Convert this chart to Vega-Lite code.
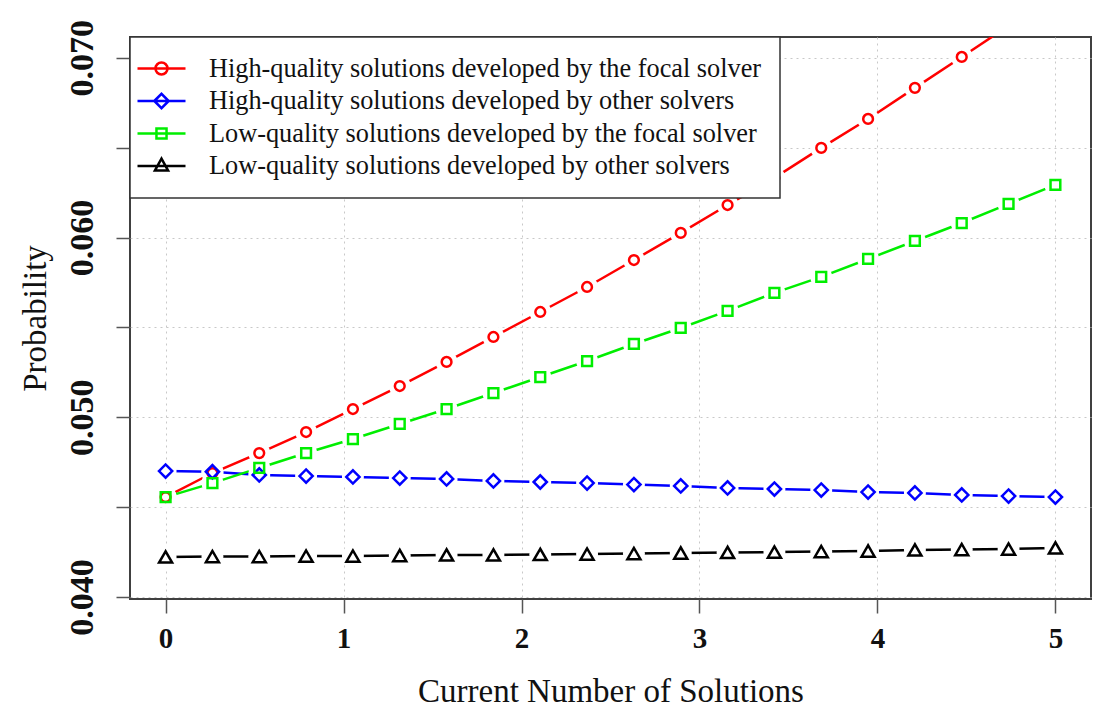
{
  "$schema": "https://vega.github.io/schema/vega-lite/v6.json",
  "autosize": "none",
  "padding": {"left": 130, "top": 37, "right": 19, "bottom": 114},
  "width": 961,
  "height": 562,
  "background": "white",
  "data": {
    "values": [
      {"x": 0.0, "series": "High-quality solutions developed by the focal solver", "p": 0.04556},
      {"x": 0.2632, "series": "High-quality solutions developed by the focal solver", "p": 0.04690},
      {"x": 0.5263, "series": "High-quality solutions developed by the focal solver", "p": 0.04801},
      {"x": 0.7895, "series": "High-quality solutions developed by the focal solver", "p": 0.04918},
      {"x": 1.0526, "series": "High-quality solutions developed by the focal solver", "p": 0.05046},
      {"x": 1.3158, "series": "High-quality solutions developed by the focal solver", "p": 0.05174},
      {"x": 1.5789, "series": "High-quality solutions developed by the focal solver", "p": 0.05308},
      {"x": 1.8421, "series": "High-quality solutions developed by the focal solver", "p": 0.05447},
      {"x": 2.1053, "series": "High-quality solutions developed by the focal solver", "p": 0.05586},
      {"x": 2.3684, "series": "High-quality solutions developed by the focal solver", "p": 0.05725},
      {"x": 2.6316, "series": "High-quality solutions developed by the focal solver", "p": 0.05875},
      {"x": 2.8947, "series": "High-quality solutions developed by the focal solver", "p": 0.06026},
      {"x": 3.1579, "series": "High-quality solutions developed by the focal solver", "p": 0.06181},
      {"x": 3.4211, "series": "High-quality solutions developed by the focal solver", "p": 0.06332},
      {"x": 3.6842, "series": "High-quality solutions developed by the focal solver", "p": 0.06499},
      {"x": 3.9474, "series": "High-quality solutions developed by the focal solver", "p": 0.06660},
      {"x": 4.2105, "series": "High-quality solutions developed by the focal solver", "p": 0.06833},
      {"x": 4.4737, "series": "High-quality solutions developed by the focal solver", "p": 0.07005},
      {"x": 4.7368, "series": "High-quality solutions developed by the focal solver", "p": 0.07178},
      {"x": 5.0, "series": "High-quality solutions developed by the focal solver", "p": 0.07361},

      {"x": 0.0, "series": "High-quality solutions developed by other solvers", "p": 0.04701},
      {"x": 0.2632, "series": "High-quality solutions developed by other solvers", "p": 0.04697},
      {"x": 0.5263, "series": "High-quality solutions developed by other solvers", "p": 0.04679},
      {"x": 0.7895, "series": "High-quality solutions developed by other solvers", "p": 0.04673},
      {"x": 1.0526, "series": "High-quality solutions developed by other solvers", "p": 0.04668},
      {"x": 1.3158, "series": "High-quality solutions developed by other solvers", "p": 0.04662},
      {"x": 1.5789, "series": "High-quality solutions developed by other solvers", "p": 0.04657},
      {"x": 1.8421, "series": "High-quality solutions developed by other solvers", "p": 0.04646},
      {"x": 2.1053, "series": "High-quality solutions developed by other solvers", "p": 0.04640},
      {"x": 2.3684, "series": "High-quality solutions developed by other solvers", "p": 0.04634},
      {"x": 2.6316, "series": "High-quality solutions developed by other solvers", "p": 0.04626},
      {"x": 2.8947, "series": "High-quality solutions developed by other solvers", "p": 0.04618},
      {"x": 3.1579, "series": "High-quality solutions developed by other solvers", "p": 0.04607},
      {"x": 3.4211, "series": "High-quality solutions developed by other solvers", "p": 0.04601},
      {"x": 3.6842, "series": "High-quality solutions developed by other solvers", "p": 0.04595},
      {"x": 3.9474, "series": "High-quality solutions developed by other solvers", "p": 0.04584},
      {"x": 4.2105, "series": "High-quality solutions developed by other solvers", "p": 0.04579},
      {"x": 4.4737, "series": "High-quality solutions developed by other solvers", "p": 0.04568},
      {"x": 4.7368, "series": "High-quality solutions developed by other solvers", "p": 0.04562},
      {"x": 5.0, "series": "High-quality solutions developed by other solvers", "p": 0.04556},

      {"x": 0.0, "series": "Low-quality solutions developed by the focal solver", "p": 0.04556},
      {"x": 0.2632, "series": "Low-quality solutions developed by the focal solver", "p": 0.04634},
      {"x": 0.5263, "series": "Low-quality solutions developed by the focal solver", "p": 0.04718},
      {"x": 0.7895, "series": "Low-quality solutions developed by the focal solver", "p": 0.04801},
      {"x": 1.0526, "series": "Low-quality solutions developed by the focal solver", "p": 0.04879},
      {"x": 1.3158, "series": "Low-quality solutions developed by the focal solver", "p": 0.04963},
      {"x": 1.5789, "series": "Low-quality solutions developed by the focal solver", "p": 0.05046},
      {"x": 1.8421, "series": "Low-quality solutions developed by the focal solver", "p": 0.05135},
      {"x": 2.1053, "series": "Low-quality solutions developed by the focal solver", "p": 0.05224},
      {"x": 2.3684, "series": "Low-quality solutions developed by the focal solver", "p": 0.05313},
      {"x": 2.6316, "series": "Low-quality solutions developed by the focal solver", "p": 0.05408},
      {"x": 2.8947, "series": "Low-quality solutions developed by the focal solver", "p": 0.05497},
      {"x": 3.1579, "series": "Low-quality solutions developed by the focal solver", "p": 0.05592},
      {"x": 3.4211, "series": "Low-quality solutions developed by the focal solver", "p": 0.05692},
      {"x": 3.6842, "series": "Low-quality solutions developed by the focal solver", "p": 0.05781},
      {"x": 3.9474, "series": "Low-quality solutions developed by the focal solver", "p": 0.05881},
      {"x": 4.2105, "series": "Low-quality solutions developed by the focal solver", "p": 0.05981},
      {"x": 4.4737, "series": "Low-quality solutions developed by the focal solver", "p": 0.06081},
      {"x": 4.7368, "series": "Low-quality solutions developed by the focal solver", "p": 0.06187},
      {"x": 5.0, "series": "Low-quality solutions developed by the focal solver", "p": 0.06293},

      {"x": 0.0, "series": "Low-quality solutions developed by other solvers", "p": 0.04223},
      {"x": 0.2632, "series": "Low-quality solutions developed by other solvers", "p": 0.04225},
      {"x": 0.5263, "series": "Low-quality solutions developed by other solvers", "p": 0.04225},
      {"x": 0.7895, "series": "Low-quality solutions developed by other solvers", "p": 0.04228},
      {"x": 1.0526, "series": "Low-quality solutions developed by other solvers", "p": 0.04228},
      {"x": 1.3158, "series": "Low-quality solutions developed by other solvers", "p": 0.04231},
      {"x": 1.5789, "series": "Low-quality solutions developed by other solvers", "p": 0.04234},
      {"x": 1.8421, "series": "Low-quality solutions developed by other solvers", "p": 0.04234},
      {"x": 2.1053, "series": "Low-quality solutions developed by other solvers", "p": 0.04237},
      {"x": 2.3684, "series": "Low-quality solutions developed by other solvers", "p": 0.04239},
      {"x": 2.6316, "series": "Low-quality solutions developed by other solvers", "p": 0.04242},
      {"x": 2.8947, "series": "Low-quality solutions developed by other solvers", "p": 0.04245},
      {"x": 3.1579, "series": "Low-quality solutions developed by other solvers", "p": 0.04248},
      {"x": 3.4211, "series": "Low-quality solutions developed by other solvers", "p": 0.04250},
      {"x": 3.6842, "series": "Low-quality solutions developed by other solvers", "p": 0.04253},
      {"x": 3.9474, "series": "Low-quality solutions developed by other solvers", "p": 0.04256},
      {"x": 4.2105, "series": "Low-quality solutions developed by other solvers", "p": 0.04262},
      {"x": 4.4737, "series": "Low-quality solutions developed by other solvers", "p": 0.04264},
      {"x": 4.7368, "series": "Low-quality solutions developed by other solvers", "p": 0.04267},
      {"x": 5.0, "series": "Low-quality solutions developed by other solvers", "p": 0.04273}
    ]
  },
  "encoding": {
    "x": {
      "field": "x",
      "type": "quantitative",
      "scale": {"domain": [-0.2, 5.2], "nice": false, "zero": false},
      "axis": {
        "values": [0, 1, 2, 3, 4, 5],
        "format": "d",
        "title": "Current Number of Solutions",
        "domain": false,
        "grid": true,
        "labelFontWeight": "bold",
        "labelFontSize": 29,
        "labelBaseline": "alphabetic",
        "labelPadding": 34,
        "labelFlush": false,
        "labelOverlap": false,
        "tickSize": 14,
        "titleY": 102,
        "titleBaseline": "alphabetic",
        "titleFontSize": 33
      }
    },
    "y": {
      "field": "p",
      "type": "quantitative",
      "scale": {"domain": [0.03989, 0.07116], "nice": false, "zero": false},
      "axis": {
        "values": [0.04, 0.045, 0.05, 0.055, 0.06, 0.065, 0.07],
        "format": ".3f",
        "labelExpr": "test(/0$/, datum.label) ? datum.label : ''",
        "title": "Probability",
        "domain": false,
        "grid": true,
        "labelFontWeight": "bold",
        "labelFontSize": 34,
        "labelAngle": -90,
        "labelAlign": "center",
        "labelBaseline": "alphabetic",
        "labelPadding": 24,
        "labelFlush": false,
        "labelOverlap": false,
        "tickSize": 14,
        "titleX": -85,
        "titleY": 281,
        "titleAngle": -90,
        "titleAlign": "center",
        "titleBaseline": "alphabetic",
        "titleFontSize": 33
      }
    },
    "color": {
      "field": "series",
      "type": "nominal",
      "scale": {
        "domain": [
          "High-quality solutions developed by the focal solver",
          "High-quality solutions developed by other solvers",
          "Low-quality solutions developed by the focal solver",
          "Low-quality solutions developed by other solvers"
        ],
        "range": ["#ff0000", "#0000ff", "#00ee00", "#000000"]
      },
      "legend": {
        "title": null,
        "orient": "top-left",
        "offset": 0,
        "padding": 18,
        "rowPadding": 5.5,
        "symbolType": "stroke",
        "symbolSize": 576,
        "symbolStrokeWidth": 2.5,
        "symbolOpacity": 1,
        "labelFontSize": 26.3,
        "labelColor": "#111111",
        "labelOffset": 34,
        "labelLimit": 800,
        "strokeColor": "#333333",
        "fillColor": "white",
        "encode": {
          "legend": {"update": {"strokeWidth": {"value": 1.5}}},
          "symbols": {
            "update": {
              "shape": {
                "signal": "datum.value === 'High-quality solutions developed by the focal solver' ? 'M-2,0H2M-0.5,0A0.5,0.5,0,1,1,0.5,0A0.5,0.5,0,1,1,-0.5,0' : datum.value === 'High-quality solutions developed by other solvers' ? 'M-2,0H2M-0.6,0L0,-0.6L0.6,0L0,0.6Z' : datum.value === 'Low-quality solutions developed by the focal solver' ? 'M-2,0H2M-0.42,-0.42H0.42V0.42H-0.42Z' : 'M-2,0H2M0,-0.62L0.55,0.38L-0.55,0.38Z'"
              },
              "size": {"value": 576},
              "fill": {"value": "transparent"},
              "strokeWidth": {"value": 2.5}
            }
          }
        }
      }
    }
  },
  "layer": [
    {
      "mark": {"type": "line", "strokeWidth": 2.5, "clip": true, "opacity": 1}
    },
    {
      "mark": {"type": "point", "filled": true, "shape": "circle", "size": 480, "opacity": 1, "strokeWidth": 0, "clip": true},
      "encoding": {"color": {"value": "#ffffff"}}
    },
    {
      "transform": [{"filter": {"field": "series", "equal": "High-quality solutions developed by the focal solver"}}],
      "mark": {"type": "point", "shape": "circle", "size": 95, "filled": false, "strokeWidth": 2.5, "opacity": 1, "clip": true}
    },
    {
      "transform": [{"filter": {"field": "series", "equal": "High-quality solutions developed by other solvers"}}],
      "mark": {"type": "point", "shape": "diamond", "size": 175, "filled": false, "strokeWidth": 2.5, "opacity": 1, "clip": true}
    },
    {
      "transform": [{"filter": {"field": "series", "equal": "Low-quality solutions developed by the focal solver"}}],
      "mark": {"type": "point", "shape": "square", "size": 95, "filled": false, "strokeWidth": 2.5, "opacity": 1, "clip": true}
    },
    {
      "transform": [{"filter": {"field": "series", "equal": "Low-quality solutions developed by other solvers"}}],
      "mark": {"type": "point", "shape": "triangle-up", "size": 170, "filled": false, "strokeWidth": 2.5, "opacity": 1, "clip": true}
    }
  ],
  "config": {
    "font": "Liberation Serif",
    "view": {"stroke": "#404040", "strokeWidth": 2},
    "axis": {
      "labelFont": "Liberation Serif",
      "titleFont": "Liberation Serif",
      "labelColor": "#111111",
      "titleColor": "#111111",
      "titleFontWeight": "normal",
      "tickColor": "#555555",
      "tickWidth": 1.5,
      "gridColor": "#c8c8c8",
      "gridDash": [2, 4],
      "gridWidth": 1
    },
    "legend": {"labelFont": "Liberation Serif"}
  }
}
